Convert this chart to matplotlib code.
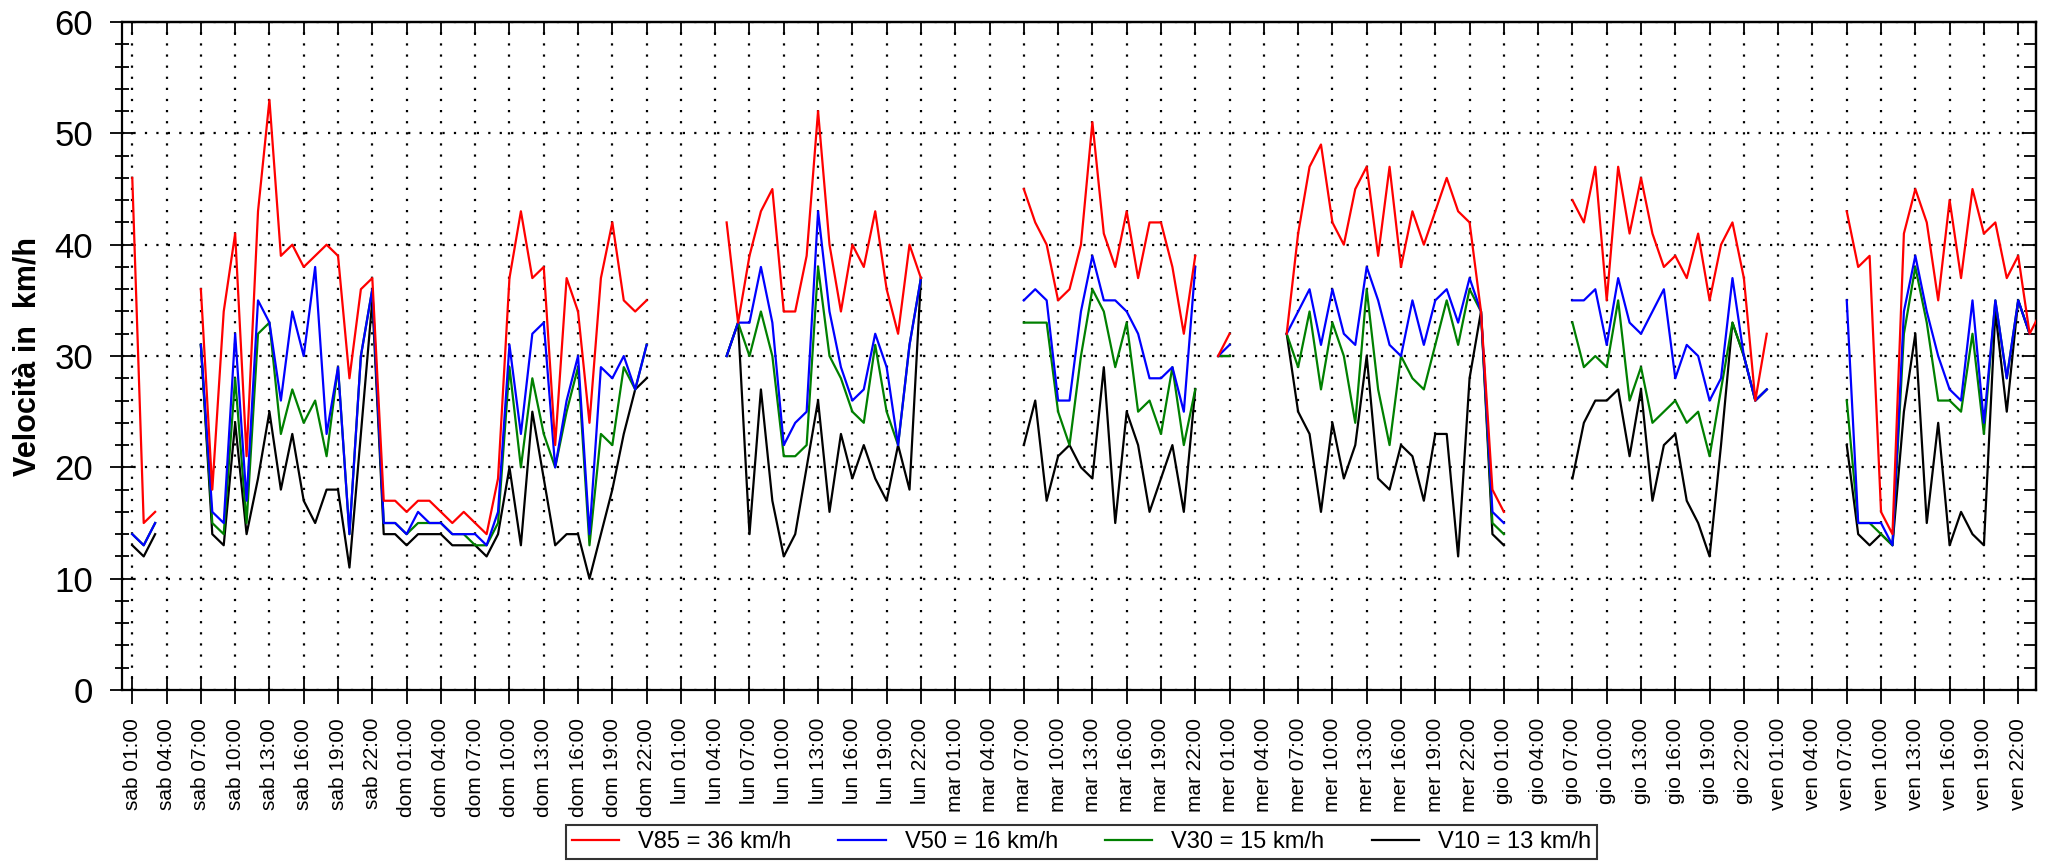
import numpy as np
import matplotlib
matplotlib.use("Agg")
import matplotlib.pyplot as plt
from matplotlib.ticker import MultipleLocator

plt.rcParams['font.family'] = ['Liberation Sans', 'DejaVu Sans']

N = None
# hourly speeds (km/h), one row per day: hours 1..24 = 01:00 .. 00:00 of next day
v85 = [
    [46, 15, 16, N, N, N, 36, 18, 34, 41, 21, 43, 53, 39, 40, 38, 39, 40, 39, 28, 36, 37, 17, 17],
    [16, 17, 17, 16, 15, 16, 15, 14, 19, 37, 43, 37, 38, 22, 37, 34, 24, 37, 42, 35, 34, 35, N, N],
    [N, N, N, N, 42, 33, 39, 43, 45, 34, 34, 39, 52, 40, 34, 40, 38, 43, 36, 32, 40, 37, N, N],
    [N, N, N, N, N, N, 45, 42, 40, 35, 36, 40, 51, 41, 38, 43, 37, 42, 42, 38, 32, 39, N, 30],
    [32, N, N, N, N, 32, 41, 47, 49, 42, 40, 45, 47, 39, 47, 38, 43, 40, 43, 46, 43, 42, 34, 18],
    [16, N, N, N, N, N, 44, 42, 47, 35, 47, 41, 46, 41, 38, 39, 37, 41, 35, 40, 42, 37, 26, 32],
    [N, N, N, N, N, N, 43, 38, 39, 16, 14, 41, 45, 42, 35, 44, 37, 45, 41, 42, 37, 39, 32, 34],
]
v50 = [
    [14, 13, 15, N, N, N, 31, 16, 15, 32, 17, 35, 33, 26, 34, 30, 38, 23, 29, 14, 30, 36, 15, 15],
    [14, 16, 15, 15, 14, 14, 14, 13, 16, 31, 23, 32, 33, 20, 26, 30, 14, 29, 28, 30, 27, 31, N, N],
    [N, N, N, N, 30, 33, 33, 38, 33, 22, 24, 25, 43, 34, 29, 26, 27, 32, 29, 22, 31, 37, N, N],
    [N, N, N, N, N, N, 35, 36, 35, 26, 26, 34, 39, 35, 35, 34, 32, 28, 28, 29, 25, 38, N, 30],
    [31, N, N, N, N, 32, 34, 36, 31, 36, 32, 31, 38, 35, 31, 30, 35, 31, 35, 36, 33, 37, 34, 16],
    [15, N, N, N, N, N, 35, 35, 36, 31, 37, 33, 32, 34, 36, 28, 31, 30, 26, 28, 37, 30, 26, 27],
    [N, N, N, N, N, N, 35, 15, 15, 15, 13, 34, 39, 34, 30, 27, 26, 35, 24, 35, 28, 35, 32, N],
]
v30 = [
    [14, 13, 15, N, N, N, 31, 15, 14, 28, 15, 32, 33, 23, 27, 24, 26, 21, 29, 14, 30, 36, 15, 15],
    [14, 15, 15, 15, 14, 14, 13, 13, 15, 29, 20, 28, 23, 20, 25, 29, 13, 23, 22, 29, 27, 31, N, N],
    [N, N, N, N, 30, 33, 30, 34, 30, 21, 21, 22, 38, 30, 28, 25, 24, 31, 25, 22, 31, 37, N, N],
    [N, N, N, N, N, N, 33, 33, 33, 25, 22, 30, 36, 34, 29, 33, 25, 26, 23, 29, 22, 27, N, 30],
    [30, N, N, N, N, 32, 29, 34, 27, 33, 30, 24, 36, 27, 22, 30, 28, 27, 31, 35, 31, 36, 34, 15],
    [14, N, N, N, N, N, 33, 29, 30, 29, 35, 26, 29, 24, 25, 26, 24, 25, 21, 27, 33, 30, 26, 27],
    [N, N, N, N, N, N, 26, 15, 15, 14, 13, 32, 38, 33, 26, 26, 25, 32, 23, 35, 28, 35, 32, N],
]
v10 = [
    [13, 12, 14, N, N, N, 31, 14, 13, 24, 14, 19, 25, 18, 23, 17, 15, 18, 18, 11, 23, 35, 14, 14],
    [13, 14, 14, 14, 13, 13, 13, 12, 14, 20, 13, 25, 19, 13, 14, 14, 10, 14, 18, 23, 27, 28, N, N],
    [N, N, N, N, 30, 33, 14, 27, 17, 12, 14, 20, 26, 16, 23, 19, 22, 19, 17, 22, 18, 37, N, N],
    [N, N, N, N, N, N, 22, 26, 17, 21, 22, 20, 19, 29, 15, 25, 22, 16, 19, 22, 16, 27, N, 30],
    [30, N, N, N, N, 32, 25, 23, 16, 24, 19, 22, 30, 19, 18, 22, 21, 17, 23, 23, 12, 28, 34, 14],
    [13, N, N, N, N, N, 19, 24, 26, 26, 27, 21, 27, 17, 22, 23, 17, 15, 12, 22, 33, 30, 26, 27],
    [N, N, N, N, N, N, 22, 14, 13, 14, 13, 25, 32, 15, 24, 13, 16, 14, 13, 34, 25, 35, 32, N],
]

series = [
    ("V85 = 36 km/h", v85, "#ff0000"),
    ("V50 = 16 km/h", v50, "#0000ff"),
    ("V30 = 15 km/h", v30, "#008000"),
    ("V10 = 13 km/h", v10, "#000000"),
]

days = ["sab", "dom", "lun", "mar", "mer", "gio", "ven"]
tick_hours = list(range(1, 167, 3))
tick_labels = [f"{days[h // 24]} {h % 24:02d}:00" for h in tick_hours]


def flat(rows):
    return np.array([np.nan if v is None else v for r in rows for v in r], dtype=float)


hours = np.arange(1, 169)

fig = plt.figure(figsize=(20.48, 8.61), dpi=100)
ax = fig.add_axes([0.0594, 0.1986, 0.9347, 0.7758])

# plot in reverse so V85 ends up on top
handles = {}
for z, (name, rows, col) in enumerate(reversed(series)):
    ln, = ax.plot(hours, flat(rows), color=col, lw=1.6, label=name, zorder=3 + z)
    handles[name] = ln

ax.set_xlim(0.07, 167.55)
ax.set_ylim(0, 60)

ax.set_xticks(tick_hours)
ax.set_xticklabels(tick_labels, rotation=90, fontsize=15)
ax.yaxis.set_major_locator(MultipleLocator(10))
ax.yaxis.set_minor_locator(MultipleLocator(2))

ax.tick_params(axis='x', direction='inout', length=20, width=1.3, pad=10, top=False)
ax.tick_params(axis='y', which='major', direction='inout', length=17, width=1.3,
               labelsize=25, pad=12, right=False)
ax.tick_params(axis='y', which='minor', direction='inout', length=10, width=1.3, right=False)

top = ax.secondary_xaxis('top')
top.set_xticks(tick_hours)
top.tick_params(direction='in', length=9.5, width=1.3, labeltop=False)
right = ax.secondary_yaxis('right')
right.yaxis.set_major_locator(MultipleLocator(2))
right.tick_params(direction='in', length=9, width=1.3, labelright=False)
for a in (top, right):
    for s in a.spines.values():
        s.set_linewidth(1.6)

for s in ax.spines.values():
    s.set_linewidth(1.6)

# dotted grid, one dot per hour / per km/h
ax.grid(axis='x', color='black', lw=1.6, linestyle=(0, (1, 4.0)))
ax.grid(axis='y', color='black', lw=1.6, linestyle=(0, (1, 4.15)))

ax.set_ylabel("Velocità in  km/h", fontsize=22, fontweight='bold')
ax.yaxis.set_label_coords(-0.0416, 0.5)

leg = fig.legend([handles[s[0]] for s in series], [s[0] for s in series],
                 loc='center', bbox_to_anchor=(0.528, 0.022), ncol=4, fontsize=17,
                 frameon=True, fancybox=False, edgecolor='black', borderpad=0.25,
                 handlelength=2.0, handletextpad=0.8, columnspacing=2.0)
leg.get_frame().set_linewidth(1.5)

fig.savefig("out.png", dpi=100)
